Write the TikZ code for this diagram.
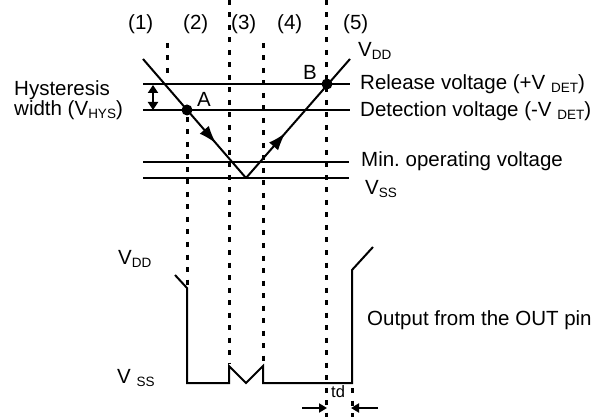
\documentclass[tikz,border=0pt]{standalone}
\usepackage{fontspec}
\setmainfont{Liberation Sans}
\usetikzlibrary{arrows.meta,decorations.markings}
\newcommand\mysub[1]{\raisebox{-3pt}{\fontsize{13.5}{13.5}\selectfont #1}}
\frenchspacing
\begin{document}
\begin{tikzpicture}[x=1pt,y=-1pt,
  font=\fontsize{20.5}{24}\selectfont,
  solidline/.style={line width=2pt},
  dotline/.style={line width=3pt, dash pattern=on 5pt off 7.5pt},
  lbl/.style={anchor=base west, inner sep=0pt},
  smallhead/.style={{Triangle[length=8pt,width=10pt]}-{Triangle[length=8pt,width=10pt]}}
]
\useasboundingbox (0,0) rectangle (603,417);

% coordinates
\coordinate (relL) at (143,84);   \coordinate (relR) at (350,84);
\coordinate (detL) at (143,110);  \coordinate (detR) at (350,110);
\coordinate (minL) at (143,162);  \coordinate (minR) at (349,162);
\coordinate (vssL) at (143,178);  \coordinate (vssR) at (349,178);
\coordinate (vTL) at (143,59);    \coordinate (vBot) at (246,178);  \coordinate (vTR) at (350,59);
\coordinate (A) at (187,110);     \coordinate (B) at (327,84);

% dotted lines
\coordinate (d1t) at (167,43);  \coordinate (d1b) at (167,80);
\coordinate (d2t) at (187,117); \coordinate (d2b) at (187,286);
\coordinate (d3t) at (229,0);   \coordinate (d3b) at (229,364);
\coordinate (d4t) at (263,43);  \coordinate (d4b) at (263,364);
\coordinate (d5t) at (326,0);   \coordinate (d5b) at (326,417);
\coordinate (d6t) at (352,388); \coordinate (d6b) at (352,417);
\draw[dotline] (d1t) -- (d1b);
\draw[dotline] (d2t) -- (d2b);
\draw[dotline] (d3t) -- (d3b);
\draw[dotline] (d4t) -- (d4b);
\draw[dotline] (d5t) -- (d5b);
\draw[dotline] (d6t) -- (d6b);

% horizontal levels
\draw[solidline] (relL) -- (relR);
\draw[solidline] (detL) -- (detR);
\draw[solidline] (minL) -- (minR);
\draw[solidline] (vssL) -- (vssR);

% V shaped supply
\draw[solidline, postaction={decorate}, decoration={markings,
  mark=at position 0.71 with {\arrow{Latex[length=18pt,width=12pt]}}}] (vTL) -- (vBot);
\draw[solidline, postaction={decorate}, decoration={markings,
  mark=at position 0.38 with {\arrow{Latex[length=18pt,width=12pt]}}}] (vBot) -- (vTR);
\fill (A) circle (5.5pt);
\fill (B) circle (5.5pt);

% hysteresis double arrow
\coordinate (hyT) at (153,85); \coordinate (hyB) at (153,110);
\draw[line width=1.8pt, smallhead] (hyT) -- (hyB);

% output waveform
\coordinate (w1) at (175,275); \coordinate (w2) at (187,288);
\coordinate (w3) at (187,383); \coordinate (w4) at (229,383);
\coordinate (w5) at (229,366); \coordinate (w6) at (246,383);
\coordinate (w7) at (263,366); \coordinate (w8) at (263,383);
\coordinate (w9) at (352,383); \coordinate (w10) at (352,270);
\coordinate (w11) at (373,247);
\draw[solidline] (w1) -- (w2) -- (w3) -- (w4) -- (w5) -- (w6) -- (w7) -- (w8) -- (w9) -- (w10) -- (w11);

% td arrows
\coordinate (tdLs) at (302,408); \coordinate (tdLe) at (327,408);
\coordinate (tdRs) at (378,408); \coordinate (tdRe) at (351,408);
\draw[line width=1.8pt, -{Triangle[length=8pt,width=9pt]}] (tdLs) -- (tdLe);
\draw[line width=1.8pt, -{Triangle[length=8pt,width=9pt]}] (tdRs) -- (tdRe);

% labels
\node[lbl] (n1) at (128,30) {(1)};
\node[lbl] (n2) at (183,30) {(2)};
\node[lbl] (n3) at (231,30) {(3)};
\node[lbl] (n4) at (277,30) {(4)};
\node[lbl] (n5) at (343,30) {(5)};
\node[anchor=north west, inner sep=0pt, align=left,
  font=\fontsize{20.5}{17}\selectfont] (hys) at (14,80)
  {Hysteresis\\width (V\mysub{HYS})};
\node[lbl] (lA) at (197,107) {A};
\node[lbl] (lB) at (303,80) {B};
\node[lbl] (vddT) at (358,57) {V\mysub{DD}};
\node[lbl] (rel) at (360,90) {Release voltage (+V \mysub{DET})};
\node[lbl] (det) at (360,117) {Detection voltage (-V \mysub{DET})};
\node[lbl] (minop) at (361,167) {Min. operating voltage};
\node[lbl] (vssT) at (365,195) {V\mysub{SS}};
\node[lbl] (vddB) at (118,265) {V\mysub{DD}};
\node[lbl] (vssB) at (117,383) {V \mysub{SS}};
\node[lbl] (out) at (367,325) {Output from the OUT pin};
\node[lbl, font=\fontsize{16.5}{18}\selectfont] (td) at (331,397) {td};
\end{tikzpicture}
\end{document}
